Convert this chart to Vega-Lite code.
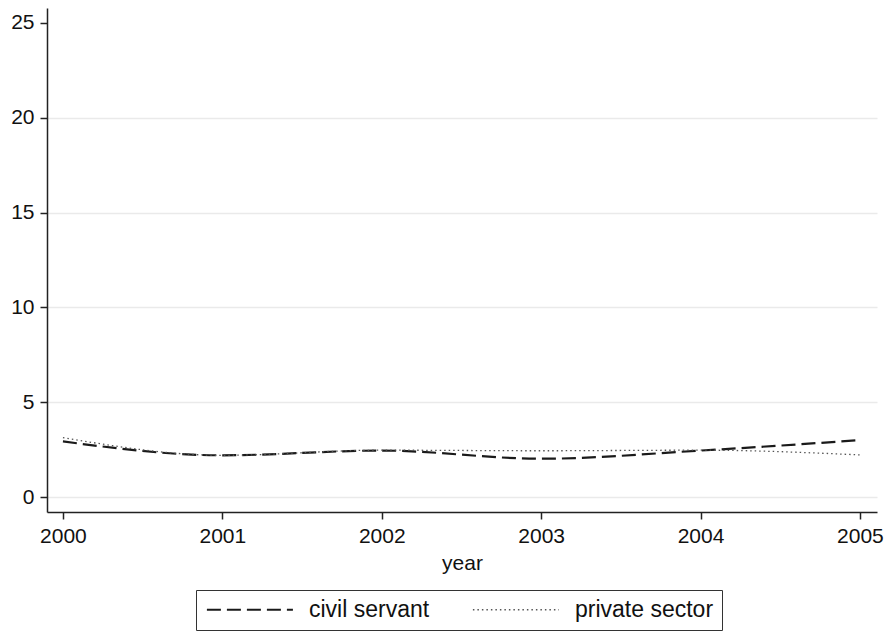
{
  "$schema": "https://vega.github.io/schema/vega-lite/v6.json",
  "width": 830,
  "height": 504,
  "autosize": {"type": "none"},
  "padding": {"left": 47, "top": 8, "right": 10, "bottom": 120},
  "background": "white",
  "config": {
    "view": {"stroke": null},
    "font": "Liberation Sans",
    "axis": {
      "labelFont": "Liberation Sans",
      "titleFont": "Liberation Sans",
      "labelFontSize": 21,
      "titleFontSize": 21,
      "titleFontWeight": "normal",
      "labelColor": "#111",
      "titleColor": "#111",
      "domainColor": "#222",
      "domainWidth": 1.5,
      "tickColor": "#222",
      "tickWidth": 1.5,
      "tickSize": 7,
      "gridColor": "#eaeaea",
      "gridWidth": 1.5
    },
    "legend": {
      "labelFont": "Liberation Sans",
      "labelFontSize": 23,
      "labelColor": "#111"
    }
  },
  "data": {
    "values": [
      {"year": 2000, "group": "civil servant", "value": 2.93},
      {"year": 2001, "group": "civil servant", "value": 2.2},
      {"year": 2002, "group": "civil servant", "value": 2.45},
      {"year": 2003, "group": "civil servant", "value": 2.02},
      {"year": 2004, "group": "civil servant", "value": 2.45},
      {"year": 2005, "group": "civil servant", "value": 3.0},
      {"year": 2000, "group": "private sector", "value": 3.13},
      {"year": 2001, "group": "private sector", "value": 2.2},
      {"year": 2002, "group": "private sector", "value": 2.47},
      {"year": 2003, "group": "private sector", "value": 2.44},
      {"year": 2004, "group": "private sector", "value": 2.47},
      {"year": 2005, "group": "private sector", "value": 2.22}
    ]
  },
  "mark": {"type": "line", "interpolate": "monotone"},
  "encoding": {
    "x": {
      "field": "year",
      "type": "quantitative",
      "scale": {"domain": [1999.9, 2005.107], "nice": false, "zero": false},
      "axis": {
        "values": [2000, 2001, 2002, 2003, 2004, 2005],
        "format": "d",
        "grid": false,
        "labelPadding": 6,
        "titlePadding": 6,
        "title": "year",
        "labelFlush": false
      }
    },
    "y": {
      "field": "value",
      "type": "quantitative",
      "scale": {"domain": [-0.79, 25.79], "nice": false, "zero": false},
      "axis": {
        "values": [0, 5, 10, 15, 20, 25],
        "title": null,
        "labelPadding": 6,
        "grid": true,
        "gridOpacity": {"condition": {"test": "datum.value == 25", "value": 0}, "value": 1},
        "labelFlush": false
      }
    },
    "color": {
      "field": "group",
      "type": "nominal",
      "scale": {"domain": ["civil servant", "private sector"], "range": ["#1a1a1a", "#555555"]},
      "legend": {
        "title": null,
        "orient": "none",
        "legendX": 149,
        "legendY": 582,
        "direction": "horizontal",
        "symbolType": "M-1,0H9",
        "symbolSize": 296,
        "symbolFillColor": "transparent",
        "labelOffset": 82,
        "columnPadding": 40,
        "strokeColor": "#333",
        "padding": 8,
        "offset": 0
      }
    },
    "strokeDash": {
      "field": "group",
      "type": "nominal",
      "scale": {"domain": ["civil servant", "private sector"], "range": [[14, 6], [1.5, 3]]}
    },
    "strokeWidth": {
      "field": "group",
      "type": "nominal",
      "scale": {"domain": ["civil servant", "private sector"], "range": [2.2, 1.3]}
    }
  }
}
